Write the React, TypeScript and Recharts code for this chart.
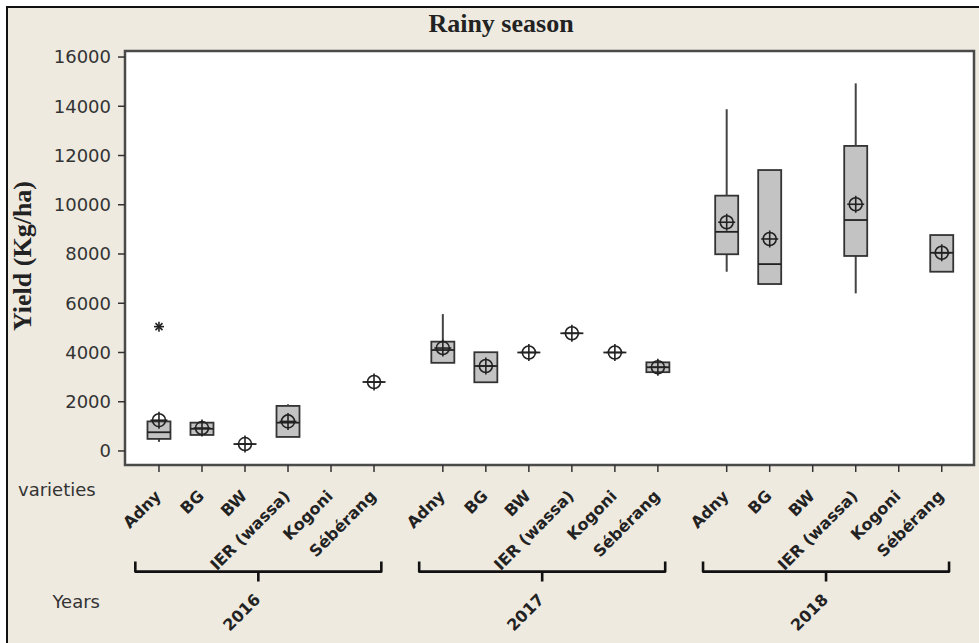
import {
  ComposedChart,
  Bar,
  Scatter,
  XAxis,
  YAxis,
  CartesianGrid,
  ReferenceArea,
  ReferenceLine,
} from "recharts";

const VARIETIES = ["Adny", "BG", "BW", "IER (wassa)", "Kogoni", "Sébérang"];
const YEARS = ["2016", "2017", "2018"];
const Y_TICKS = [0, 2000, 4000, 6000, 8000, 10000, 12000, 14000, 16000];

// yield in Kg/ha, one slot per year x variety; null = no data that year
const whiskerLow = [
  370, 650, 280, 570, null, 2800, // 2016
  3580, 2790, 4000, 4780, 4000, 3150, // 2017
  7280, 6780, null, 6400, null, 7280, // 2018
];
const q1 = [
  490, 650, 280, 570, null, 2800,
  3580, 2790, 4000, 4780, 4000, 3200,
  7990, 6780, null, 7920, null, 7280,
];
const median = [
  760, 900, 280, 1150, null, 2800,
  4100, 3450, 4000, 4780, 4000, 3400,
  8900, 7590, null, 9380, null, 8050,
];
const q3 = [
  1200, 1150, 280, 1830, null, 2800,
  4440, 4010, 4000, 4780, 4000, 3600,
  10370, 11410, null, 12390, null, 8770,
];
const whiskerHigh = [
  1200, 1150, 280, 1900, null, 2800,
  5560, 4010, 4000, 4780, 4000, 3600,
  13880, 11410, null, 14930, null, 8770,
];
const mean = [
  1250, 930, 280, 1200, null, 2800,
  4180, 3450, 4000, 4780, 4000, 3400,
  9290, 8610, null, 10020, null, 8050,
];
const outliers = [{ year: "2016", variety: "Adny", value: 5050 }];

const GROUP_STEP = VARIETIES.length + 0.6;
const xOf = (g: number, i: number) => +(g * GROUP_STEP + i).toFixed(2);
const BRACKET_Y = -4900;
const BOX_W = 23;

const tickLabels = new Map<number, string>();
const rows: any[] = [];
YEARS.forEach((year, g) => {
  VARIETIES.forEach((variety, i) => {
    const x = xOf(g, i);
    tickLabels.set(x, variety);
    const k = g * VARIETIES.length + i;
    if (mean[k] == null) return;
    const out = outliers.find((o) => o.year === year && o.variety === variety);
    rows.push({
      x,
      base: whiskerLow[k],
      lowW: (q1[k] as number) - (whiskerLow[k] as number),
      box: (q3[k] as number) - (q1[k] as number),
      upW: (whiskerHigh[k] as number) - (q3[k] as number),
      median: median[k],
      mean: mean[k],
      outlier: out ? out.value : null,
    });
  });
});
const tickValues = Array.from(tickLabels.keys());

function VarietyTick(props: any) {
  const { x, y, payload } = props;
  const px = x + 3;
  const py = y + 23;
  return (
    <text
      x={px}
      y={py}
      transform={`rotate(-45 ${px} ${py})`}
      textAnchor="end"
      fontFamily="DejaVu Sans"
      fontWeight="bold"
      fontSize={16}
      fill="#222"
    >
      {tickLabels.get(payload.value)}
    </text>
  );
}

const Whisker = (props: any) => {
  const { x, y, width, height } = props;
  if (!height || isNaN(height)) return <g />;
  const cx = x + width / 2;
  return <line x1={cx} x2={cx} y1={y} y2={y + height} stroke="#444" strokeWidth={2} />;
};

const BoxShape = (props: any) => {
  const { x, y, width, height } = props;
  if (!height || isNaN(height)) return <g />;
  return (
    <rect x={x} y={y} width={width} height={height} fill="#c3c3c3" stroke="#333" strokeWidth={1.8} />
  );
};

const MedianShape = (props: any) => {
  const { cx, cy } = props;
  if (cx == null || cy == null || isNaN(cy)) return <g />;
  return (
    <line x1={cx - BOX_W / 2} x2={cx + BOX_W / 2} y1={cy} y2={cy} stroke="#222" strokeWidth={1.8} />
  );
};

const MeanShape = (props: any) => {
  const { cx, cy } = props;
  if (cx == null || cy == null || isNaN(cy)) return <g />;
  return (
    <g stroke="#222" strokeWidth={1.6} fill="none">
      <circle cx={cx} cy={cy} r={6.5} />
      <line x1={cx - 8.5} x2={cx + 8.5} y1={cy} y2={cy} />
      <line x1={cx} x2={cx} y1={cy - 8.5} y2={cy + 8.5} />
    </g>
  );
};

const OutlierShape = (props: any) => {
  const { cx, cy, payload } = props;
  if (payload.outlier == null || isNaN(cy)) return <g />;
  const r = 5;
  return (
    <g stroke="#222" strokeWidth={1.6}>
      <line x1={cx} x2={cx} y1={cy - r} y2={cy + r} />
      <line x1={cx - r} x2={cx + r} y1={cy} y2={cy} />
      <line x1={cx - 3.5} x2={cx + 3.5} y1={cy - 3.5} y2={cy + 3.5} />
      <line x1={cx - 3.5} x2={cx + 3.5} y1={cy + 3.5} y2={cy - 3.5} />
    </g>
  );
};

const Bracket = (props: any) => {
  const { x1, y1, x2, year } = props;
  const cx = (x1 + x2) / 2;
  const tx = cx + 3;
  const ty = y1 + 29;
  return (
    <g>
      <path
        d={`M${x1},${y1 - 10} L${x1},${y1} L${x2},${y1} L${x2},${y1 - 10} M${cx},${y1} L${cx},${y1 + 10}`}
        fill="none"
        stroke="#111"
        strokeWidth={2.6}
        strokeLinejoin="round"
      />
      <text
        x={tx}
        y={ty}
        transform={`rotate(-45 ${tx} ${ty})`}
        textAnchor="end"
        fontFamily="DejaVu Sans"
        fontWeight="bold"
        fontSize={16}
        fill="#222"
      >
        {year}
      </text>
    </g>
  );
};

export default function App() {
  return (
    <div style={{ position: "absolute", left: 0, top: 0, width: 979, height: 643, background: "#fff" }}>
      <div
        style={{
          position: "absolute",
          left: 6,
          top: 6,
          right: 0,
          bottom: 0,
          background: "#eeeae0",
          borderTop: "2px solid #111",
          borderLeft: "2px solid #111",
        }}
      />
      <ComposedChart
        width={979}
        height={643}
        data={rows}
        margin={{ top: 51, right: 5, bottom: 0, left: 0 }}
        style={{ position: "absolute", left: 0, top: 0 }}
      >
        <CartesianGrid fill="#fff" stroke="none" horizontal={false} vertical={false} />
        <XAxis
          type="number"
          dataKey="x"
          domain={[-0.79, 18.95]}
          ticks={tickValues}
          interval={0}
          allowDataOverflow
          height={178}
          axisLine={false}
          tickSize={7}
          tickMargin={2}
          tickLine={{ stroke: "#333", strokeWidth: 1.5 }}
          tick={<VarietyTick />}
        />
        <YAxis
          type="number"
          domain={[-570, 16245]}
          ticks={Y_TICKS}
          interval={0}
          allowDataOverflow
          width={125}
          axisLine={false}
          tickSize={7}
          tickMargin={7}
          tickLine={{ stroke: "#333", strokeWidth: 1.5 }}
          tick={{ fontSize: 18, fill: "#333", fontFamily: "DejaVu Sans" }}
        />
        <Bar dataKey="base" stackId="b" barSize={BOX_W} fill="none" shape={() => <g />} isAnimationActive={false} />
        <Bar dataKey="lowW" stackId="b" barSize={BOX_W} shape={Whisker} isAnimationActive={false} />
        <Bar dataKey="box" stackId="b" barSize={BOX_W} shape={BoxShape} isAnimationActive={false} />
        <Bar dataKey="upW" stackId="b" barSize={BOX_W} shape={Whisker} isAnimationActive={false} />
        <Scatter dataKey="median" shape={MedianShape} isAnimationActive={false} />
        <Scatter dataKey="mean" shape={MeanShape} isAnimationActive={false} />
        <Scatter dataKey="outlier" shape={OutlierShape} isAnimationActive={false} />
        <ReferenceArea
          x1={-0.79}
          x2={18.95}
          y1={-570}
          y2={16245}
          ifOverflow="visible"
          fill="none"
          stroke="#4a4a4a"
          strokeWidth={2.5}
        />
        {YEARS.map((year, g) => (
          <ReferenceLine
            key={year}
            segment={[
              { x: xOf(g, 0) - 0.55, y: BRACKET_Y },
              { x: xOf(g, VARIETIES.length - 1) + 0.17, y: BRACKET_Y },
            ]}
            ifOverflow="visible"
            shape={(p: any) => <Bracket {...p} year={year} />}
          />
        ))}
      </ComposedChart>
      <svg
        width={979}
        height={643}
        style={{ position: "absolute", left: 0, top: 0, pointerEvents: "none" }}
      >
        <text
          x={501}
          y={32}
          textAnchor="middle"
          fontFamily="Liberation Serif"
          fontWeight="bold"
          fontSize={26}
          fill="#222"
        >
          Rainy season
        </text>
        <text
          x={31}
          y={256}
          transform="rotate(-90 31 256)"
          textAnchor="middle"
          fontFamily="Liberation Serif"
          fontWeight="bold"
          fontSize={26}
          fill="#222"
        >
          Yield (Kg/ha)
        </text>
        <text x={18} y={496} fontFamily="DejaVu Sans" fontSize={18} fill="#333">
          varieties
        </text>
        <text x={100} y={608} textAnchor="end" fontFamily="DejaVu Sans" fontSize={18} fill="#333">
          Years
        </text>
      </svg>
    </div>
  );
}
